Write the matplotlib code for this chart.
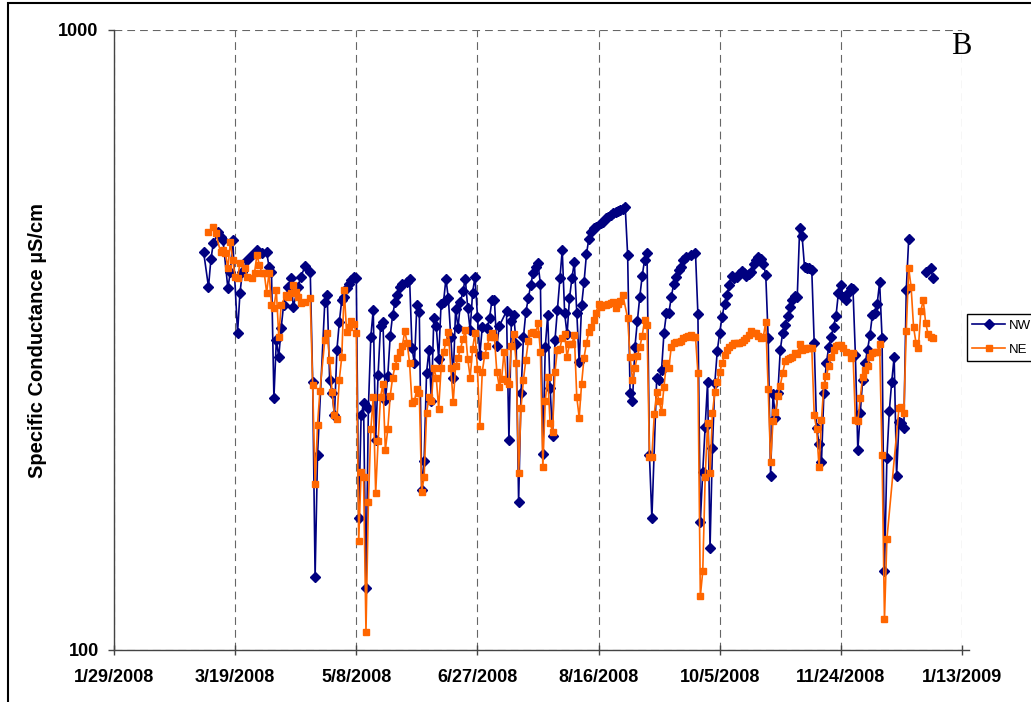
import numpy as np
import pandas as pd
import matplotlib
matplotlib.use("Agg")
import matplotlib.pyplot as plt
import matplotlib.dates as mdates
from matplotlib.patches import Rectangle
from matplotlib.ticker import NullLocator

plt.rcParams["font.family"] = ["Liberation Sans", "DejaVu Sans"]

# sampling days counted from 1/29/2008, specific conductance in uS/cm
start = pd.Timestamp("2008-01-29")

nw_day = [37, 39, 40, 41, 43, 44, 45, 47, 48, 49,
          51, 52, 53, 55, 57, 59, 61, 63, 64, 65,
          66, 67, 68, 69, 70, 72, 73, 74, 76, 77,
          79, 81, 82, 83, 84, 87, 88, 89, 90, 91,
          92, 93, 94, 95, 96, 97, 98, 99, 100, 101,
          102, 103, 104, 105, 106, 107, 108, 109, 110, 111,
          112, 113, 114, 115, 116, 117, 118, 119, 121, 122,
          123, 124, 125, 126, 127, 128, 129, 130, 131, 132,
          133, 134, 135, 136, 137, 138, 139, 140, 141, 142,
          143, 144, 145, 146, 147, 148, 149, 150, 151, 152,
          154, 155, 156, 157, 158, 159, 162, 163, 164, 165,
          166, 167, 168, 169, 170, 171, 172, 173, 174, 175,
          176, 177, 178, 179, 180, 181, 182, 183, 184, 185,
          186, 187, 188, 189, 190, 191, 192, 193, 194, 195,
          196, 197, 198, 199, 201, 202, 203, 204, 205, 206,
          207, 208, 209, 210, 211, 212, 213, 214, 215, 216,
          217, 218, 219, 220, 221, 222, 224, 225, 226, 227,
          228, 229, 230, 231, 232, 233, 234, 235, 236, 238,
          240, 241, 242, 243, 244, 245, 246, 247, 248, 249,
          250, 251, 252, 253, 254, 255, 256, 257, 258, 259,
          260, 261, 262, 263, 264, 265, 266, 267, 268, 269,
          270, 271, 272, 273, 274, 275, 276, 277, 278, 279,
          280, 281, 282, 283, 284, 285, 286, 287, 288, 289,
          290, 291, 292, 293, 294, 295, 296, 297, 298, 299,
          300, 301, 302, 303, 304, 305, 306, 307, 308, 309,
          310, 311, 312, 313, 314, 315, 316, 317, 318, 319,
          320, 321, 322, 323, 324, 325, 326, 327, 328, 331,
          335, 337, 338]
nw_val = [438, 385, 427, 453, 472, 464, 458, 383, 407, 458,
          325, 377, 407, 426, 434, 442, 437, 438, 415, 407,
          255, 316, 297, 331, 360, 385, 398, 358, 385, 400,
          416, 407, 271, 131, 206, 364, 374, 273, 260, 239,
          305, 338, 367, 371, 383, 390, 395, 400, 398, 163,
          239, 250, 126, 246, 320, 354, 218, 278, 333, 338,
          253, 277, 321, 347, 364, 374, 385, 389, 392, 397,
          307, 290, 360, 351, 181, 202, 280, 305, 252, 343,
          333, 295, 362, 364, 397, 369, 320, 275, 355, 331,
          364, 379, 397, 356, 328, 377, 400, 345, 299, 332,
          331, 343, 367, 367, 309, 333, 352, 218, 339, 347,
          311, 173, 260, 320, 351, 369, 388, 406, 415, 421,
          389, 207, 308, 347, 265, 221, 316, 354, 398, 442,
          349, 323, 369, 398, 422, 349, 291, 360, 392, 435,
          461, 472, 479, 481, 488, 491, 497, 499, 503, 507,
          508, 510, 512, 514, 518, 434, 260, 252, 308, 339,
          371, 401, 426, 437, 206, 163, 275, 273, 283, 325,
          349, 349, 371, 389, 400, 410, 415, 426, 430, 434,
          437, 348, 161, 194, 229, 271, 146, 212, 270, 304,
          325, 345, 362, 374, 388, 401, 398, 400, 404, 409,
          405, 401, 404, 407, 420, 425, 430, 428, 420, 403,
          319, 191, 259, 237, 260, 305, 325, 334, 346, 357,
          367, 372, 371, 479, 465, 415, 413, 413, 410, 313,
          228, 215, 201, 260, 290, 308, 320, 332, 346, 377,
          388, 371, 367, 377, 383, 382, 299, 210, 241, 273,
          290, 305, 322, 347, 349, 362, 392, 319, 134, 204,
          243, 271, 297, 191, 233, 232, 228, 381, 460, None,
          407, 413, 398]

ne_day = [39, 41, 42, 44, 45, 46, 47, 48, 49, 50,
          51, 52, 54, 55, 57, 58, 59, 60, 61, 62,
          63, 64, 65, 66, 67, 68, 69, 71, 72, 73,
          74, 75, 76, 77, 79, 81, 82, 83, 84, 85,
          87, 88, 89, 90, 91, 92, 93, 94, 95, 96,
          97, 98, 99, 100, 101, 102, 103, 104, 105, 106,
          107, 108, 109, 110, 111, 112, 113, 114, 115, 116,
          117, 118, 119, 120, 121, 122, 123, 124, 125, 126,
          127, 128, 129, 130, 131, 132, 133, 134, 135, 136,
          137, 138, 139, 140, 141, 142, 143, 144, 145, 146,
          147, 148, 149, 150, 151, 152, 153, 154, 155, 156,
          157, 158, 159, 160, 161, 162, 163, 164, 165, 166,
          167, 168, 169, 170, 171, 172, 173, 174, 175, 176,
          177, 178, 179, 180, 181, 182, 183, 184, 185, 186,
          187, 188, 189, 190, 191, 192, 193, 194, 195, 196,
          197, 198, 199, 200, 201, 202, 203, 204, 205, 206,
          207, 208, 209, 210, 212, 213, 214, 215, 216, 217,
          218, 219, 220, 221, 222, 223, 224, 225, 226, 227,
          228, 229, 230, 231, 232, 233, 234, 235, 236, 237,
          238, 239, 240, 241, 242, 243, 244, 245, 246, 247,
          248, 249, 250, 251, 252, 253, 254, 255, 256, 257,
          258, 259, 260, 261, 262, 263, 264, 265, 266, 267,
          268, 269, 270, 271, 272, 273, 274, 275, 276, 277,
          278, 279, 280, 281, 282, 283, 284, 285, 286, 287,
          288, 289, 290, 291, 292, 293, 294, 295, 296, 297,
          298, 299, 300, 301, 302, 304, 305, 306, 307, 308,
          309, 310, 311, 312, 313, 314, 315, 316, 317, 318,
          319, 324, 325, 326, 327, 328, 329, 330, 331, 332,
          333, 334, 335, 336, 337, 338]
ne_val = [472, 481, 470, 438, 442, 437, 413, 455, 426, 400,
          398, 421, 413, 400, 398, 406, 434, 418, 406, 406,
          377, 406, 360, 356, 381, 320, 360, 374, 371, 377,
          388, 378, 371, 363, 364, 369, 268, 185, 231, 262,
          316, 325, 294, 261, 239, 236, 273, 297, 381, 326,
          332, 339, 335, 325, 150, 194, 190, 107, 173, 227,
          256, 179, 217, 256, 269, 210, 227, 257, 275, 287,
          296, 302, 309, 327, 313, 290, 250, 252, 264, 260,
          180, 190, 241, 256, 252, 285, 275, 245, 285, 302,
          314, 326, 285, 251, 287, 296, 306, 317, 328, 295,
          275, 306, 325, 284, 230, 281, 299, 309, 320, 325,
          320, 281, 266, 274, 303, 272, 269, 309, 323, 290,
          193, 246, 273, 294, 315, 325, 326, 323, 337, 303,
          197, 252, 276, 232, 225, 281, 305, 306, 319, 323,
          297, 312, 311, 322, 256, 237, 269, 296, 313, 326,
          332, 341, 350, 362, 358, 360, 360, 362, 363, 364,
          356, 362, 366, 374, 343, 297, 273, 285, 298, 308,
          321, 341, 334, 205, 205, 240, 261, 252, 242, 266,
          290, 285, 308, 313, 314, 314, 315, 319, 320, 321,
          322, 320, 320, 280, 122, 134, 190, 232, 193, 241,
          261, 271, 281, 290, 299, 305, 308, 310, 313, 313,
          313, 314, 316, 319, 322, 327, 325, 324, 321, 319,
          320, 338, 264, 201, 234, 242, 257, 267, 280, 292,
          295, 296, 297, 301, 300, 311, 305, 306, 307, 307,
          307, 239, 227, 197, 235, 268, 277, 287, 297, 305,
          309, 310, 310, 307, 302, 296, 301, 235, 234, 255,
          276, 283, 287, 297, 301, 302, 303, 311, 206, 112,
          151, 246, 247, 241, 327, 413, 385, 332, 313, 307,
          352, 367, 337, 323, 320, 319]

tick_days = [0, 50, 100, 150, 200, 250, 300, 350]
y_ticks = [100, 1000]

nw_x = start + pd.to_timedelta(nw_day, unit="D")
ne_x = start + pd.to_timedelta(ne_day, unit="D")
nw_y = np.array([np.nan if v is None else v for v in nw_val], dtype=float)
ne_y = np.array(ne_val, dtype=float)

fig = plt.figure(figsize=(10.31, 7.02), dpi=100)
ax = fig.add_axes([114 / 1031, 52 / 702, 848 / 1031, 620 / 702])

ax.plot(nw_x, nw_y, color="#000080", marker="D", markersize=5, linewidth=1.2, label="NW")
ax.plot(ne_x, ne_y, color="#FF6600", marker="s", markersize=4, linewidth=1.2, label="NE")

ax.set_yscale("log")
ax.set_ylim(100, 1000)
ax.set_yticks(y_ticks)
ax.set_yticklabels([str(t) for t in y_ticks])
ax.yaxis.set_minor_locator(NullLocator())

ticks = [start + pd.Timedelta(days=d) for d in tick_days]
ax.set_xlim(ticks[0], ticks[-1])
ax.set_xticks(ticks)
ax.set_xticklabels([f"{t.month}/{t.day}/{t.year}" for t in ticks])
ax.xaxis.set_minor_locator(NullLocator())

for lab in ax.get_xticklabels() + ax.get_yticklabels():
    lab.set_fontweight("bold")
    lab.set_fontsize(13)

ax.tick_params(axis="x", direction="inout", length=7, width=1, color="#444444", pad=10)
ax.tick_params(axis="y", direction="out", length=4, width=1, color="#444444", pad=7)

ax.grid(True, which="major", linestyle=(0, (7, 4.5)), color="#666666", linewidth=0.8)
ax.set_axisbelow(True)

for side in ("top", "right"):
    ax.spines[side].set_visible(False)
for side in ("left", "bottom"):
    ax.spines[side].set_color("#444444")
    ax.spines[side].set_linewidth(1)
x_lo = mdates.date2num(ticks[0])
ax.spines["bottom"].set_bounds(x_lo, mdates.date2num(ticks[-1]) + 3)

fig.text(38 / 1031, 1 - 340 / 702, "Specific Conductance µS/cm", rotation=90,
         ha="center", va="center", fontsize=14.5, fontweight="bold")
fig.text(961 / 1031, 1 - 46 / 702, "B", ha="center", va="center",
         fontsize=22, family="Liberation Serif")

leg = fig.legend(loc="upper left", bbox_to_anchor=(967 / 1031, 1 - 314 / 702),
                 fontsize=9.5, fancybox=False, edgecolor="black", framealpha=1,
                 handlelength=2.5, handletextpad=0.3, borderpad=0.4,
                 labelspacing=0.9, borderaxespad=0)
leg.get_frame().set_linewidth(1)

# outer chart border
fig.patches.append(Rectangle((8 / 1031, -0.1), 1.2, 1.1 - 3 / 702, transform=fig.transFigure,
                             fill=False, edgecolor="black", linewidth=1.5))

fig.savefig("out.png", dpi=100)
